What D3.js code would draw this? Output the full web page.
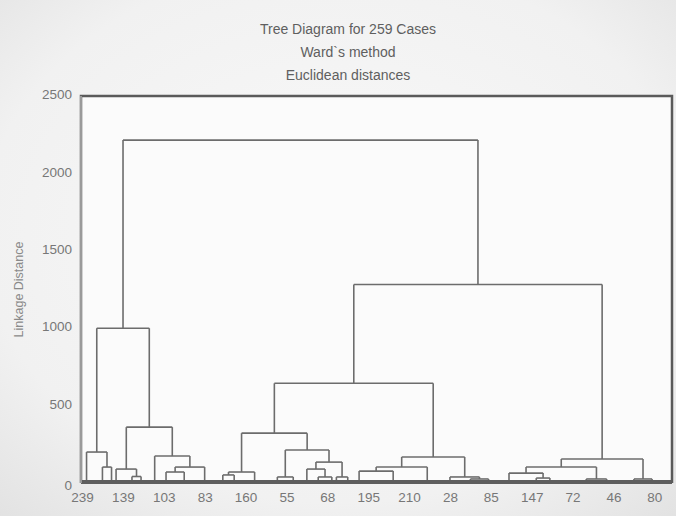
<!DOCTYPE html>
<html>
<head>
<meta charset="utf-8">
<script src="https://cdn.jsdelivr.net/npm/d3@7"></script>
<style>
  html, body { margin: 0; padding: 0; background: #ececec; }
  svg { display: block; }
  text { font-family: "Liberation Sans", Arial, sans-serif; }
</style>
</head>
<body>
<svg id="chart" width="676" height="516"></svg>
<script>
// ---------------- data ----------------
const titleLines = ["Tree Diagram for 259 Cases", "Ward`s method", "Euclidean distances"];
const yAxisTitle = "Linkage Distance";
const nCases = 259;
const yTicks = [0, 500, 1000, 1500, 2000, 2500];

// case labels shown on the x axis and their rank in the leaf order
const caseLabels = ["239", "139", "103", "83", "160", "55", "68", "195", "210", "28", "85", "147", "72", "46", "80"];
const caseLabelRanks = [0, 18, 36, 54, 72, 90, 108, 126, 144, 162, 180, 198, 216, 234, 252];

// terminal groups (bottom clusters) : rank in the leaf order
const leafRanks = [2, 9, 13, 15, 22, 26, 32, 37, 45, 54, 62, 67, 76, 86, 93, 99, 104,
                   110, 112, 117, 122, 137, 152, 162, 171, 179, 188, 200, 206, 222, 231, 243, 251];

// merges (linkage list): ids < leafRanks.length are groups, others are earlier merges (n + k)
const mergeA = [1, 0, 4, 3, 7, 37, 6, 36, 34, 10, 42, 13, 16, 15, 18, 46, 44, 43, 20, 51, 24, 23, 52, 50, 27, 26, 29, 58, 31, 60, 56, 41];
const mergeB = [2, 33, 5, 35, 8, 9, 38, 39, 40, 11, 12, 14, 17, 45, 19, 47, 48, 49, 21, 22, 25, 53, 54, 55, 28, 57, 30, 59, 32, 61, 62, 63];
const mergeHeight = [103, 200, 42, 90, 71, 103, 174, 361, 1000, 52, 71, 39, 39, 90, 39, 135, 213, 322,
                     77, 103, 26, 39, 168, 644, 32, 64, 26, 103, 26, 155, 1282, 2215];

// ---------------- layout ----------------
const svg = d3.select("#chart");
const W = 676, H = 516;
const frame = { left: 81, right: 672, top: 96, bottom: 483 };

const defs = svg.append("defs");
const grad = defs.append("radialGradient").attr("id", "paper").attr("cx", "50%").attr("cy", "45%").attr("r", "75%");
grad.append("stop").attr("offset", "0%").attr("stop-color", "#f9f9f9");
grad.append("stop").attr("offset", "70%").attr("stop-color", "#f1f1f1");
grad.append("stop").attr("offset", "100%").attr("stop-color", "#e2e2e2");
svg.append("rect").attr("width", W).attr("height", H).attr("fill", "url(#paper)");

const x = d3.scaleLinear().domain([0, nCases - 1]).range([82, 668]);
const y = d3.scaleLinear().domain([0, 2500]).range([frame.bottom, frame.top]);

// plot area
svg.append("rect")
  .attr("x", frame.left).attr("y", frame.top)
  .attr("width", frame.right - frame.left).attr("height", frame.bottom - frame.top)
  .attr("fill", "#fbfbfb");

// titles
svg.append("g").selectAll("text").data(titleLines).join("text")
  .attr("x", 348).attr("y", (d, i) => 34 + i * 23)
  .attr("text-anchor", "middle")
  .attr("font-size", 14)
  .attr("fill", "#5f5f5f")
  .text(d => d);

// y axis
const yAxis = svg.append("g")
  .attr("transform", `translate(${frame.left},0)`)
  .call(d3.axisLeft(y).tickValues(yTicks).tickSize(0).tickPadding(9).tickFormat(d3.format("d")));
yAxis.select(".domain").remove();
yAxis.selectAll("text").attr("font-size", 13.5).attr("fill", "#777").attr("dy", "0.2em")
  .style("font-family", "'Liberation Sans', Arial, sans-serif");
yAxis.selectAll(".tick").filter(d => d === 0).select("text").attr("dy", "0.5em");

svg.append("text")
  .attr("transform", `translate(23,${(frame.top + frame.bottom) / 2}) rotate(-90)`)
  .attr("text-anchor", "middle")
  .attr("font-size", 12.5)
  .attr("fill", "#8a8a8a")
  .text(yAxisTitle);

// x axis (case labels)
const xAxis = svg.append("g")
  .attr("transform", `translate(0,${frame.bottom})`)
  .call(d3.axisBottom(x).tickValues(caseLabelRanks).tickSize(0).tickPadding(9)
    .tickFormat((d, i) => caseLabels[i]));
xAxis.select(".domain").remove();
xAxis.selectAll("text").attr("font-size", 13.5).attr("fill", "#777")
  .style("font-family", "'Liberation Sans', Arial, sans-serif");

// ---------------- dendrogram ----------------
const nodeX = leafRanks.slice();
const nodeH = leafRanks.map(() => 0);
const segs = [];
mergeA.forEach((a, k) => {
  const b = mergeB[k], h = mergeHeight[k];
  const xa = nodeX[a], xb = nodeX[b];
  segs.push([xa, h, xb, h]);          // horizontal
  segs.push([xa, nodeH[a], xa, h]);   // left leg
  segs.push([xb, nodeH[b], xb, h]);   // right leg
  nodeX.push((xa + xb) / 2);
  nodeH.push(h);
});

svg.append("g")
  .attr("stroke", "#6c6c6c")
  .attr("stroke-width", 1.6)
  .attr("fill", "none")
  .selectAll("line").data(segs).join("line")
  .attr("x1", d => x(d[0])).attr("y1", d => y(d[1]))
  .attr("x2", d => x(d[2])).attr("y2", d => y(d[3]));

// dense low-level merges form a dark band on the baseline
svg.append("line")
  .attr("x1", frame.left).attr("x2", frame.right)
  .attr("y1", y(0) - 1).attr("y2", y(0) - 1)
  .attr("stroke", "#5e5e5e").attr("stroke-width", 4);

// frame
svg.append("path")
  .attr("d", `M${frame.left},${frame.bottom} L${frame.left},${frame.top} L${frame.right},${frame.top} L${frame.right},${frame.bottom}`)
  .attr("fill", "none").attr("stroke", "#5a5a5a").attr("stroke-width", 2.5);
svg.append("line")
  .attr("x1", frame.left).attr("x2", frame.left)
  .attr("y1", frame.top).attr("y2", frame.bottom)
  .attr("stroke", "#b0b0b0").attr("stroke-width", 1.5);
</script>
</body>
</html>
